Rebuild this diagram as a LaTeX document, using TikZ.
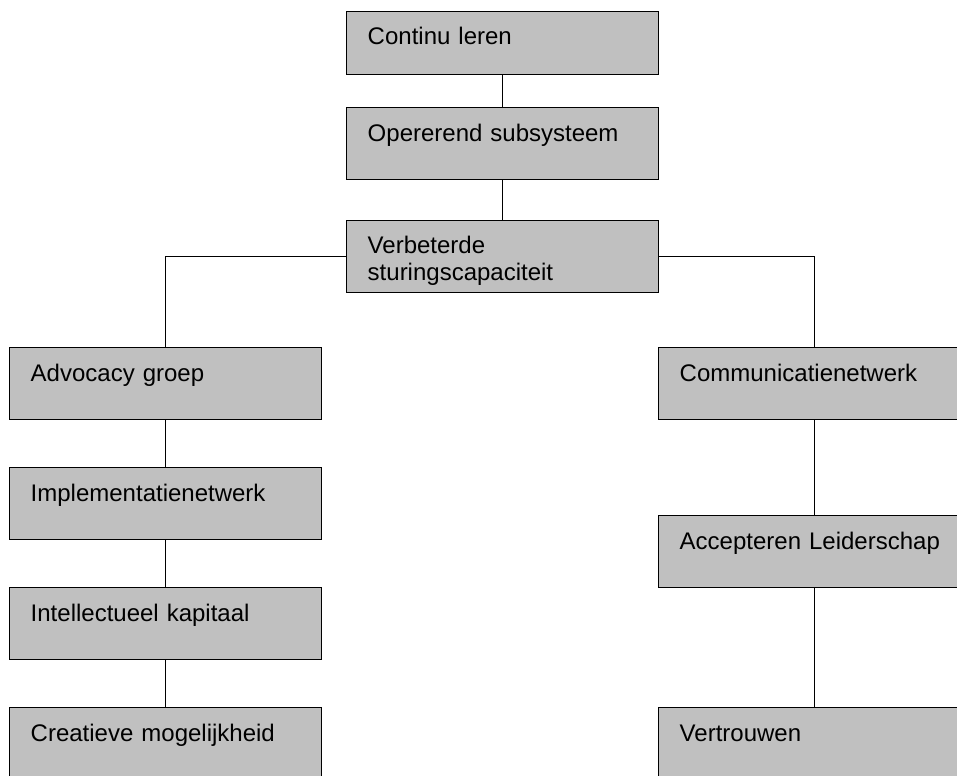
\documentclass[tikz,border=0pt]{standalone}
\usepackage{fontspec}
\setmainfont{Liberation Sans}
\usepackage{tikz}
\usetikzlibrary{positioning}
\usepackage{xcolor}
\definecolor{boxgray}{RGB}{192,192,192}
\tikzset{every picture/.style={line width=1.1pt}}
\tikzset{
  stepbox/.style={draw=black, fill=boxgray, rectangle, anchor=north west,
    minimum width=234pt, text width=202.5pt, align=left,
    inner xsep=15.75pt, inner ysep=0pt,
    font=\fontsize{18}{20.25}\selectfont,
    text height=25.5pt, text depth=28.5pt},
  topbox/.style={stepbox, text height=24.75pt, text depth=22.5pt},
  twobox/.style={stepbox, text height=24.75pt, text depth=29.25pt}
}

\begin{document}
\begin{tikzpicture}[x=0.75pt,y=0.75pt,yscale=-1,xscale=1]
\useasboundingbox (0,0) rectangle (957,775);
\clip (0,0) rectangle (957,775);

%middle column
\node [topbox] (continu) at (346,11) {Continu leren};
\node [stepbox] (opererend) at (346,107) {Opererend subsysteem};
\node [twobox] (verbeterd) at (346,220) {Verbeterde\\sturingscapaciteit};

%left column
\node [stepbox] (advocacy) at (9,347) {Advocacy groep};
\node [stepbox] (implementatie) at (9,467) {Implementatienetwerk};
\node [stepbox] (intellect) at (9,587) {Intellectueel kapitaal};
\node [stepbox] (creatief) at (9,707) {Creatieve mogelijkheid};

%right column
\node [stepbox] (communicatie) at (658,347) {Communicatienetwerk};
\node [stepbox] (leiderschap) at (658,515) {Accepteren Leiderschap};
\node [stepbox] (vertrouwen) at (658,707) {Vertrouwen};

%connectors
\draw (continu) -- (opererend);
\draw (opererend) -- (verbeterd);
\draw (verbeterd.west) -| (advocacy);
\draw (verbeterd.east) -| (communicatie);
\draw (advocacy) -- (implementatie);
\draw (implementatie) -- (intellect);
\draw (intellect) -- (creatief);
\draw (communicatie) -- (leiderschap);
\draw (leiderschap) -- (vertrouwen);

\end{tikzpicture}
\end{document}
